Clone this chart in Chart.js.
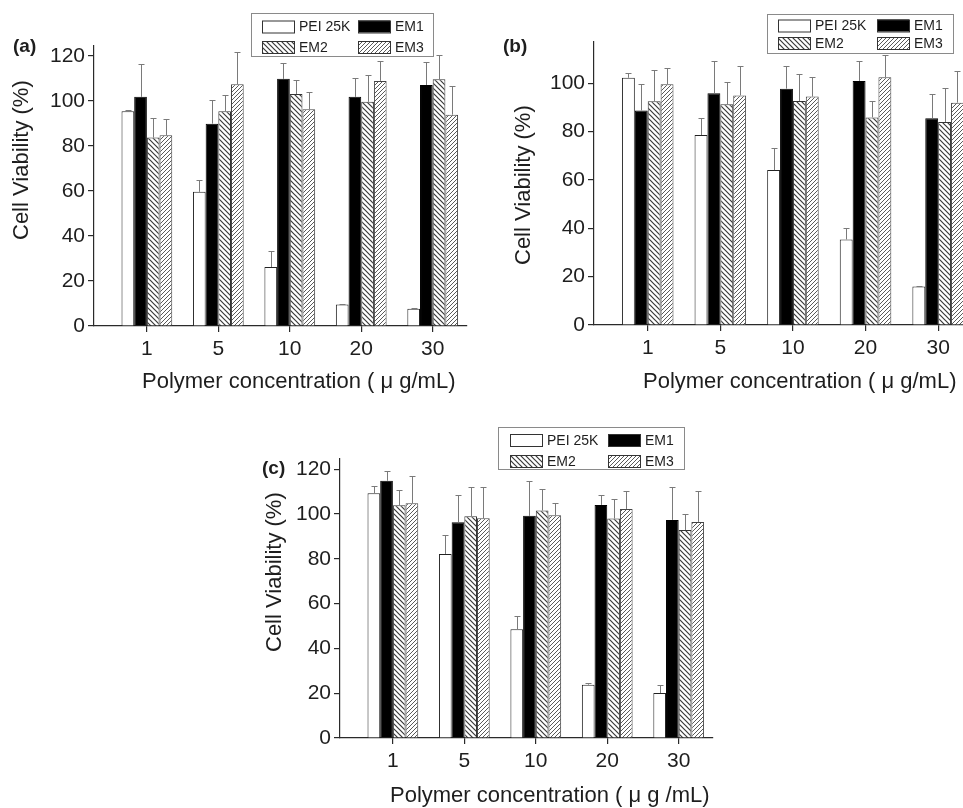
<!DOCTYPE html>
<html>
<head>
<meta charset="utf-8">
<script src="https://cdn.jsdelivr.net/npm/chart.js@4.4.1/dist/chart.umd.min.js"></script>
<style>
  body { margin: 0; background: #fff; width: 963px; height: 808px; overflow: hidden; position: relative; }
  canvas { position: absolute; }
</style>
</head>
<body>
<canvas id="panelA" width="480" height="400" style="left:0;top:0"></canvas>
<canvas id="panelB" width="520" height="400" style="left:480px;top:0"></canvas>
<canvas id="panelC" width="480" height="408" style="left:240px;top:400px"></canvas>
<script>
// concentrations (ug/mL) and series
const categories = ['1', '5', '10', '20', '30'];
const seriesNames = ['PEI 25K', 'EM1', 'EM2', 'EM3'];

// (a) cell viability %, upper error bars
const peiA = [95.4, 59.6, 26.2, 9.5, 7.7];
const em1A = [101.8, 89.9, 109.8, 101.8, 107.1];
const em2A = [83.7, 95.4, 103.1, 99.6, 109.6];
const em3A = [84.7, 107.4, 96.3, 108.9, 93.9];
const peiErrA = [0.7, 5.1, 7.0, 0.3, 0.3];
const em1ErrA = [14.8, 10.4, 7.1, 8.2, 10.4];
const em2ErrA = [8.9, 7.1, 6.4, 11.9, 10.7];
const em3ErrA = [7.2, 14.4, 7.7, 8.9, 12.6];

// (b)
const peiB = [102.3, 78.6, 64.1, 35.4, 15.9];
const em1B = [88.8, 95.9, 97.8, 101.0, 85.5];
const em2B = [92.6, 91.3, 92.7, 85.9, 84.0];
const em3B = [99.6, 95.0, 94.5, 102.5, 92.0];
const peiErrB = [2.1, 6.9, 9.3, 4.9, 0.2];
const em1ErrB = [10.8, 13.3, 9.4, 8.2, 10.1];
const em2ErrB = [12.8, 9.4, 11.2, 6.8, 13.9];
const em3ErrB = [6.9, 12.2, 8.0, 9.2, 13.2];

// (c)
const peiC = [109.3, 82.2, 48.6, 23.8, 20.1];
const em1C = [114.9, 96.4, 99.2, 104.1, 97.4];
const em2C = [103.9, 99.0, 101.6, 98.0, 92.9];
const em3C = [104.8, 98.1, 99.5, 102.3, 96.5];
const peiErrC = [3.4, 8.5, 5.7, 0.7, 3.4];
const em1ErrC = [4.4, 12.0, 15.7, 4.4, 14.9];
const em2ErrC = [6.9, 13.0, 9.8, 8.6, 7.0];
const em3ErrC = [12.2, 13.9, 5.3, 8.0, 13.8];

const yTicks120 = [0, 20, 40, 60, 80, 100, 120];
const yTicks100 = [0, 20, 40, 60, 80, 100];

const FONT = '"Liberation Sans", Arial, sans-serif';
const INK = '#1e1e1e';
Chart.defaults.font.family = FONT;

function hatch(dir, size, color, lw) {
  const c = document.createElement('canvas');
  c.width = size; c.height = size;
  const g = c.getContext('2d');
  g.fillStyle = '#fff';
  g.fillRect(0, 0, size, size);
  g.strokeStyle = color;
  g.lineWidth = lw;
  g.beginPath();
  if (dir === 'back') {
    g.moveTo(-1, -1); g.lineTo(size + 1, size + 1);
    g.moveTo(size - 1, -1); g.lineTo(size + 1, 1);
    g.moveTo(-1, size - 1); g.lineTo(1, size + 1);
  } else {
    g.moveTo(-1, size + 1); g.lineTo(size + 1, -1);
    g.moveTo(-1, 1); g.lineTo(1, -1);
    g.moveTo(size - 1, size + 1); g.lineTo(size + 1, size - 1);
  }
  g.stroke();
  return g.createPattern(c, 'repeat');
}

const fills = ['#ffffff', '#000000', hatch('back', 5, '#3a3a3a', 1.2), hatch('fwd', 4, '#5a5a5a', 1)];
const borders = ['#222', '#000', '#333', '#444'];

// upper error bars
const errorBars = {
  id: 'errorBars',
  afterDatasetsDraw(chart) {
    const ctx = chart.ctx, ys = chart.scales.y;
    ctx.save();
    ctx.strokeStyle = '#7a7a7a';
    ctx.lineWidth = 1;
    chart.data.datasets.forEach((ds, i) => {
      chart.getDatasetMeta(i).data.forEach((bar, j) => {
        const top = Math.round(ys.getPixelForValue(ds.data[j].y + ds.errors[j])) + 0.5;
        const x = Math.round(bar.x) + 0.5;
        ctx.beginPath();
        ctx.moveTo(x, bar.y);
        ctx.lineTo(x, top);
        ctx.moveTo(x - 3, top);
        ctx.lineTo(x + 3, top);
        ctx.stroke();
      });
    });
    ctx.restore();
  }
};

// boxed two-column legend
const boxLegend = {
  id: 'boxLegend',
  afterDraw(chart, args, o) {
    const ctx = chart.ctx;
    ctx.save();
    ctx.strokeStyle = '#8a8a8a';
    ctx.lineWidth = 1;
    ctx.strokeRect(o.x + 0.5, o.y + 0.5, o.w, o.h);
    ctx.font = '14px ' + FONT;
    ctx.textBaseline = 'middle';
    chart.data.datasets.forEach((ds, i) => {
      const sx = o.x + o.cols[i % 2], sy = o.y + o.rows[Math.floor(i / 2)];
      ctx.fillStyle = ds.backgroundColor;
      ctx.fillRect(sx, sy - 6, 32, 12);
      ctx.strokeStyle = '#333';
      ctx.strokeRect(sx + 0.5, sy - 6 + 0.5, 32, 12);
      ctx.fillStyle = INK;
      ctx.fillText(ds.label, sx + 37, sy + 1);
    });
    ctx.restore();
  }
};

// axis titles and panel tag
const labels = {
  id: 'labels',
  afterDraw(chart, args, o) {
    const ctx = chart.ctx;
    ctx.save();
    ctx.fillStyle = INK;
    ctx.textBaseline = 'alphabetic';
    ctx.textAlign = 'left';
    ctx.font = 'bold 19px ' + FONT;
    ctx.fillText(o.tag[0], o.tag[1], o.tag[2]);
    ctx.font = '22px ' + FONT;
    ctx.fillText(o.xTitle[0], o.xTitle[1], o.xTitle[2]);
    ctx.translate(o.yTitle[1], o.yTitle[2]);
    ctx.rotate(-Math.PI / 2);
    ctx.fillText(o.yTitle[0], 0, 0);
    ctx.restore();
  }
};

function makePanel(id, series, errs, p) {
  const datasets = seriesNames.map((name, k) => ({
    label: name,
    data: series[k].map((v, i) => ({ x: i + 1, y: v })),
    errors: errs[k],
    backgroundColor: fills[k],
    borderColor: borders[k],
    borderWidth: 1,
    categoryPercentage: 0.71,
    barPercentage: 1
  }));
  const tickFont = { size: 21, family: FONT };
  const axisGrid = { drawOnChartArea: false, drawTicks: true, tickLength: 6, tickColor: '#2a2a2a', lineWidth: 1.2, offset: false };
  const axisBorder = { display: true, color: '#2a2a2a', width: 1.2 };
  return new Chart(document.getElementById(id), {
    type: 'bar',
    data: { datasets },
    options: {
      responsive: false,
      animation: false,
      layout: { padding: { left: 0, right: p.right, top: p.top, bottom: 0 } },
      plugins: {
        legend: { display: false },
        tooltip: { enabled: false },
        boxLegend: p.legend,
        labels: p.labels
      },
      scales: {
        x: {
          type: 'linear',
          min: 0.26,
          max: 5.48,
          offset: false,
          afterBuildTicks: s => { s.ticks = categories.map((c, i) => ({ value: i + 1 })); },
          afterFit: s => { s.height = p.xh; },
          ticks: { callback: v => categories[v - 1], font: tickFont, color: INK, padding: 5, maxRotation: 0, autoSkip: false },
          grid: axisGrid,
          border: axisBorder
        },
        y: {
          min: 0,
          max: p.ymax,
          afterBuildTicks: s => { s.ticks = p.yTicks.map(v => ({ value: v })); },
          afterFit: s => { s.width = p.yw; },
          ticks: { font: tickFont, color: INK, padding: 3 },
          grid: axisGrid,
          border: axisBorder
        }
      }
    },
    plugins: [errorBars, boxLegend, labels]
  });
}

makePanel('panelA', [peiA, em1A, em2A, em3A], [peiErrA, em1ErrA, em2ErrA, em3ErrA], {
  right: 13, top: 46, xh: 74, yw: 94, ymax: 124.4, yTicks: yTicks120,
  legend: { x: 251, y: 13, w: 182, h: 43, cols: [11, 107], rows: [13.5, 34] },
  labels: { tag: ['(a)', 13, 52], xTitle: ['Polymer concentration ( \u03bc g/mL)', 142, 388], yTitle: ['Cell Viability (%)', 28, 240] }
});

makePanel('panelB', [peiB, em1B, em2B, em3B], [peiErrB, em1ErrB, em2ErrB, em3ErrB], {
  right: 27, top: 42, xh: 75, yw: 114, ymax: 117.1, yTicks: yTicks100,
  legend: { x: 287, y: 14, w: 186, h: 39, cols: [11, 110], rows: [11.5, 29] },
  labels: { tag: ['(b)', 23, 52], xTitle: ['Polymer concentration ( \u03bc g/mL)', 163, 388], yTitle: ['Cell Viability (%)', 50, 265] }
});

makePanel('panelC', [peiC, em1C, em2C, em3C], [peiErrC, em1ErrC, em2ErrC, em3ErrC], {
  right: 7, top: 59, xh: 70, yw: 100, ymax: 124.6, yTicks: yTicks120,
  legend: { x: 258, y: 27, w: 186, h: 42, cols: [12, 110], rows: [13, 34] },
  labels: { tag: ['(c)', 22, 74], xTitle: ['Polymer concentration ( \u03bc g /mL)', 150, 402], yTitle: ['Cell Viability (%)', 41, 252] }
});
</script>
</body>
</html>
